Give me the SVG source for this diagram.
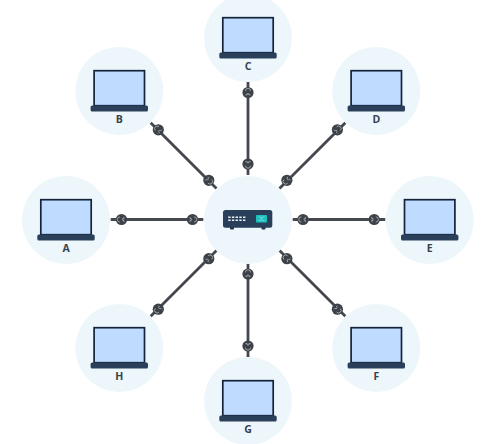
<svg xmlns="http://www.w3.org/2000/svg" xmlns:xlink="http://www.w3.org/1999/xlink" width="492" height="444" viewBox="0 0 492 444">
<style>
.bg{fill:#edf6fb}
.screen{fill:#bfdbff;stroke:#14233a;stroke-width:1.7}
.base{fill:#2a405a}
.lbl{font-family:"Open Sans","Liberation Sans",sans-serif;font-size:10.500px;font-weight:700;fill:#36414e;text-anchor:middle}
.wire{stroke:#45494f;stroke-width:2.800;fill:none}
.dot{fill:#3d4148}
.gl{fill:none;stroke:#b4b8bd;stroke-width:.8}
</style>
<defs>
<g id="laptop">
<circle class="bg" r="44"/>
<rect class="screen" x="-25.2" y="-20.3" width="50.4" height="35"/>
<rect class="base" x="-28.7" y="14.5" width="57.4" height="6" rx="1.5"/>
</g>
<g id="plug">
<circle class="dot" r="5.6"/>
<path class="gl" d="M-2.6-1.6A2.6 2.6 0 0 1 2.600-1.600M-2.600 2.400H-.9V1.200H.9V2.400H2.600"/>
</g>
</defs>
<rect width="492" height="444" fill="#fff"/>
<g id="connectors">
<path class="wire" d="M248 82V175M248 264V357M110.700 219.500H203.300M292.700 219.500H385.300M150.700 122.700L216.500 188.500M345.300 122.700L279.500 188.500M150.700 316.300L216.500 250.500M345.300 316.300L279.500 250.500"/>
<use xlink:href="#plug" href="#plug" transform="translate(248 92.500)"/>
<use xlink:href="#plug" href="#plug" transform="translate(248 164) rotate(180)"/>
<use xlink:href="#plug" href="#plug" transform="translate(248 274)"/>
<use xlink:href="#plug" href="#plug" transform="translate(248 346) rotate(180)"/>
<use xlink:href="#plug" href="#plug" transform="translate(121.500 219.500) rotate(-90)"/>
<use xlink:href="#plug" href="#plug" transform="translate(192.500 219.500) rotate(90)"/>
<use xlink:href="#plug" href="#plug" transform="translate(303.000 219.500) rotate(-90)"/>
<use xlink:href="#plug" href="#plug" transform="translate(374.200 219.500) rotate(90)"/>
<use xlink:href="#plug" href="#plug" transform="translate(158.300 129.800) rotate(-45)"/>
<use xlink:href="#plug" href="#plug" transform="translate(208.800 180.300) rotate(135)"/>
<use xlink:href="#plug" href="#plug" transform="translate(337.400 129.800) rotate(45)"/>
<use xlink:href="#plug" href="#plug" transform="translate(286.900 180.300) rotate(-135)"/>
<use xlink:href="#plug" href="#plug" transform="translate(158.300 309.200) rotate(-135)"/>
<use xlink:href="#plug" href="#plug" transform="translate(208.800 258.700) rotate(45)"/>
<use xlink:href="#plug" href="#plug" transform="translate(337.400 309.200) rotate(135)"/>
<use xlink:href="#plug" href="#plug" transform="translate(286.900 258.700) rotate(-45)"/>
</g>
<g id="switch">
<circle class="bg" cx="248" cy="220" r="44"/>
<rect x="230" y="226" width="4" height="3.500" rx="1" fill="#1f3147"/>
<rect x="261.500" y="226" width="4" height="3.500" rx="1" fill="#1f3147"/>
<rect x="223" y="210" width="49.300" height="17.700" rx="2.500" fill="#2a405a"/>
<rect x="256" y="215" width="11" height="7.500" rx=".8" fill="#1cc0bd"/>
<path d="M258.500 217H260.500L262.500 220.500H264.500M258.500 220.500H260.500L262.500 217H264.500" fill="none" stroke="#bdeeed" stroke-width=".5"/>
<path d="M228.200 217.300h2.400m1.300 0h2.400m1.300 0h2.400m1.300 0h2.400m1.300 0h2.400M228.200 220.300h2.400m1.300 0h2.400m1.300 0h2.400m1.300 0h2.400m1.300 0h2.400" stroke="#eef3f7" stroke-width="1.600" fill="none"/>
</g>
<g id="node-a"><use xlink:href="#laptop" href="#laptop" x="66" y="220"/><text class="lbl" x="66" y="252">A</text></g>
<g id="node-b"><use xlink:href="#laptop" href="#laptop" x="119.300" y="91"/><text class="lbl" x="119.300" y="123">B</text></g>
<g id="node-c"><use xlink:href="#laptop" href="#laptop" x="248" y="38"/><text class="lbl" x="248" y="70">C</text></g>
<g id="node-d"><use xlink:href="#laptop" href="#laptop" x="376.300" y="91"/><text class="lbl" x="376.300" y="123">D</text></g>
<g id="node-e"><use xlink:href="#laptop" href="#laptop" x="429.700" y="220"/><text class="lbl" x="429.700" y="252">E</text></g>
<g id="node-f"><use xlink:href="#laptop" href="#laptop" x="376.300" y="348"/><text class="lbl" x="376.300" y="380">F</text></g>
<g id="node-g"><use xlink:href="#laptop" href="#laptop" x="248" y="401"/><text class="lbl" x="248" y="433">G</text></g>
<g id="node-h"><use xlink:href="#laptop" href="#laptop" x="119.300" y="348"/><text class="lbl" x="119.300" y="380">H</text></g>
</svg>
